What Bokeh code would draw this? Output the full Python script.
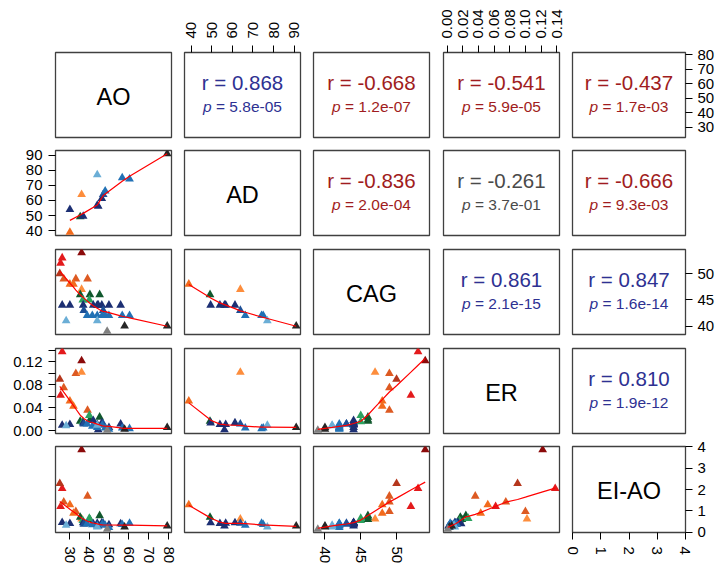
import numpy as np
from bokeh.plotting import figure
from bokeh.models import Range1d, LinearAxis, FixedTicker, PrintfTickFormatter, Label
from bokeh.layouts import gridplot
from bokeh.embed import file_html
from bokeh.resources import INLINE

# ---------------- data ----------------
var_names = ["AO", "AD", "CAG", "ER", "EI-AO"]

nan = float("nan")
cag = [54, 53, 52, 50, 49, 49, 49, 48, 48, 47, 46, 46, 46, 45, 45,
       44, 44, 44, 44, 44, 44, 44, 44, 44, 43, 43,
       42, 42, 42, 42, 42, 42, 42, 42, 41, 41, 40, 40, 39]
ao = [36.1, 26.3, 25.5, 25.1, 27.1, 33.2, 39.1, 30.2, 32.0, 36.1, 35.4, 40.3, 45.2, 36.7, 40.0,
      26.3, 30.2, 36.9, 42.0, 44.0, 44.5, 46.3, 49.9, 55.8, 37.2, 47.0,
      38.9, 41.5, 44.0, 46.5, 48.0, 49.9, 56.6, 60.3, 28.3, 44.0, 57.8, 79.3, 49.0]
ad = [nan, nan, nan, nan, nan, nan, nan, 38.9, nan, 63.9, 49.2, nan, nan, nan, nan,
      nan, 54.0, 49.5, nan, 56.8, 56.2, 61.3, nan, nan, nan, 63.9,
      nan, nan, nan, nan, 66.3, nan, 75.0, 74.2, nan, 77.0, nan, 91.0, nan]
er = [0.122, 0.138, 0.062, 0.090, 0.075, 0.100, 0.036, 0.052, 0.043, 0.102, 0.017, 0.019, 0.024, 0.016, 0.027,
      0.010, 0.011, 0.014, 0.018, 0.011, 0.002, 0.014, 0.006, 0.012, 0.012, 0.012,
      0.012, 0.008, 0.006, 0.010, 0.005, 0.003, 0.005, 0.004, 0.009, 0.010, 0.003, 0.006, 0.001]
ei_ao = [3.86, 2.05, 1.21, 2.28, 1.42, 0.97, 1.69, 1.29, 0.89, 0.62, 0.70, 0.60, 0.78, 0.55, 0.65,
         0.46, 0.41, 0.45, 0.40, 0.42, 0.29, 0.45, 0.35, 0.40, 0.38, 0.42,
         0.40, 0.35, 0.30, 0.38, 0.33, 0.22, 0.36, 0.42, 0.33, 0.25, 0.25, 0.29, 0.14]

cag_levels = [39, 40, 41, 42, 43, 44, 45, 46, 47, 48, 49, 50, 52, 53, 54]
cag_colors = ["#808080", "#262626", "#6baed6", "#2171b5", "#1d4f96", "#1c2f73", "#2ca25f",
              "#10582d", "#fd8d3c", "#f26b1d", "#dd5a22", "#b5361c", "#e31a1c", "#e31a1c", "#8b0a0a"]

# correlation annotations (upper panels)
upper_cells = [(0, 1), (0, 2), (0, 3), (0, 4), (1, 2), (1, 3), (1, 4), (2, 3), (2, 4), (3, 4)]
r_text = ["r = 0.868", "r = -0.668", "r = -0.541", "r = -0.437", "r = -0.836",
          "r = -0.261", "r = -0.666", "r = 0.861", "r = 0.847", "r = 0.810"]
p_text = ["5.8e-05", "1.2e-07", "5.9e-05", "1.7e-03", "2.0e-04",
          "3.7e-01", "9.3e-03", "2.1e-15", "1.6e-14", "1.9e-12"]
r_kind = ["pos", "neg", "neg", "neg", "neg", "ns", "neg", "pos", "pos", "pos"]
kind_color = {"pos": "#2e3192", "neg": "#a01c20", "ns": "#4a4a4a"}

# tick positions
ao_ticks = [30, 40, 50, 60, 70, 80]
ad_ticks = [40, 50, 60, 70, 80, 90]
cag_ticks = [40, 45, 50]
er_ticks_all = [0.00, 0.02, 0.04, 0.06, 0.08, 0.10, 0.12, 0.14]
er_ticks_major = [0.00, 0.04, 0.08, 0.12]
er_ticks_minor = [0.02, 0.06, 0.10, 0.14]
ei_ticks = [0, 1, 2, 3, 4]

# ---------------- helpers ----------------
columns = [np.array(ao, float), np.array(ad, float), np.array(cag, float),
           np.array(er, float), np.array(ei_ao, float)]
color_of = dict(zip(cag_levels, cag_colors))
colors = np.array([color_of[c] for c in cag])


def data_range(v):
    v = v[np.isfinite(v)]
    lo, hi = v.min(), v.max()
    d = hi - lo
    return lo - 0.04 * d, hi + 0.04 * d


ranges = [data_range(c) for c in columns]


def _lowest(x, y, n, xs, nleft, nright, rw, userw):
    rng = x[n - 1] - x[0]
    h = max(xs - x[nleft], x[nright] - xs)
    h9, h1 = 0.999 * h, 0.001 * h
    w = np.zeros(n)
    a = 0.0
    j = nleft
    while j < n:
        r = abs(x[j] - xs)
        if r <= h9:
            w[j] = 1.0 if r <= h1 else (1 - (r / h) ** 3) ** 3
            if userw:
                w[j] *= rw[j]
            a += w[j]
        elif x[j] > xs:
            break
        j += 1
    nrt = j - 1
    if a <= 0:
        return 0.0, False
    sl = slice(nleft, nrt + 1)
    w[sl] /= a
    if h > 0:
        a = np.sum(w[sl] * x[sl])
        b = xs - a
        c = np.sum(w[sl] * (x[sl] - a) ** 2)
        if np.sqrt(c) > 0.001 * rng:
            b /= c
            w[sl] *= (b * (x[sl] - a) + 1.0)
    return float(np.sum(w[sl] * y[sl])), True


def lowess(x, y, f=2 / 3, nsteps=3):
    o = np.argsort(x, kind="stable")
    x = x[o]
    y = y[o]
    n = len(x)
    delta = 0.01 * (x[-1] - x[0])
    ns = max(2, min(n, int(f * n + 1e-7)))
    ys = np.zeros(n)
    rw = np.ones(n)
    for it in range(1, nsteps + 2):
        nleft, nright, last, i = 0, ns - 1, -1, 0
        while True:
            if nright < n - 1:
                d1 = x[i] - x[nleft]
                d2 = x[nright + 1] - x[i]
                if d1 > d2:
                    nleft += 1
                    nright += 1
                    continue
            val, ok = _lowest(x, y, n, x[i], nleft, nright, rw, it > 1)
            ys[i] = val if ok else y[i]
            if last < i - 1:
                denom = x[i] - x[last]
                for j in range(last + 1, i):
                    alpha = (x[j] - x[last]) / denom
                    ys[j] = alpha * ys[i] + (1 - alpha) * ys[last]
            last = i
            cut = x[last] + delta
            i = last + 1
            while i < n:
                if x[i] > cut:
                    break
                if x[i] == x[last]:
                    ys[i] = ys[last]
                    last = i
                i += 1
            i = max(last + 1, i - 1)
            if last >= n - 1:
                break
        res = y - ys
        sc = np.mean(np.abs(res))
        if it > nsteps:
            break
        ar = np.abs(res)
        cmad = 6 * np.median(ar)
        if cmad < 1e-7 * sc:
            break
        c9, c1 = 0.999 * cmad, 0.001 * cmad
        rw = np.where(ar <= c1, 1.0, np.where(ar <= c9, (1 - (ar / cmad) ** 2) ** 2, 0.0))
    return x, ys


FONT = "Liberation Sans"
TICK_FS = "15px"


def add_axis(p, loc, ticks, minor=None, fmt="%d", vertical=False, standoff=6):
    ax = LinearAxis(ticker=FixedTicker(ticks=ticks, minor_ticks=minor or []))
    ax.axis_line_color = None
    ax.major_tick_out = 7
    ax.major_tick_in = 0
    ax.minor_tick_out = 7 if minor else 0
    ax.minor_tick_in = 0
    ax.major_tick_line_color = "black"
    ax.minor_tick_line_color = "black"
    ax.major_label_text_font = FONT
    ax.major_label_text_font_size = TICK_FS
    ax.major_label_text_color = "black"
    ax.major_label_standoff = standoff
    ax.formatter = PrintfTickFormatter(format=fmt)
    if vertical:
        ax.major_label_orientation = "vertical"
    p.add_layout(ax, loc)


# Arial-metric widths (per 1000 em) for centering the mixed italic/regular p line
CW = {c: 556 for c in "0123456789ep"}
CW.update({".": 278, "-": 333, "=": 584, " ": 278, "r": 333})


def text_width(s, fs):
    return sum(CW[c] for c in s) * fs / 1000.0


# ---------------- layout geometry ----------------
col_lb = [55, 7, 7, 7, 7]
col_fw = [116, 116, 116, 116, 115]
col_rb = [6, 6, 7, 6, 30]
row_tb = [52, 7, 7, 7, 7]
row_fh = [85, 85, 85, 85, 86]
row_bb = [6, 7, 7, 6, 36]

R_FS = 20.5
P_FS = 15.5
DIAG_FS = 23.5
R_DY = 12.5
P_DY = -11.9
DIAG_DY = -1.5

grid_rows = []
for i in range(5):
    row = []
    for j in range(5):
        W = col_lb[j] + col_fw[j] + col_rb[j]
        H = row_tb[i] + row_fh[i] + row_bb[i]
        xr = Range1d(*ranges[j])
        yr = Range1d(*ranges[i])
        p = figure(width=W, height=H, x_range=xr, y_range=yr, title=None,
                   toolbar_location=None, tools="", output_backend="svg",
                   x_axis_location=None, y_axis_location=None,
                   min_border_left=col_lb[j], min_border_right=col_rb[j],
                   min_border_top=row_tb[i], min_border_bottom=row_bb[i])
        p.xgrid.grid_line_color = None
        p.ygrid.grid_line_color = None
        p.outline_line_color = "#404040"
        p.outline_line_width = 1.3
        p.background_fill_color = "white"
        p.border_fill_color = "white"

        cx = 0.5 * (ranges[j][0] + ranges[j][1])
        cy = 0.5 * (ranges[i][0] + ranges[i][1])

        if i == j:
            p.add_layout(Label(x=cx, y=cy, text=var_names[i], text_align="center",
                               text_baseline="alphabetic", y_offset=DIAG_DY,
                               text_font=FONT, text_font_size=f"{DIAG_FS}px",
                               text_color="black"))
        elif i < j:
            k = upper_cells.index((i, j))
            col = kind_color[r_kind[k]]
            p.add_layout(Label(x=cx, y=cy, text=r_text[k], text_align="center",
                               text_baseline="alphabetic", y_offset=R_DY,
                               text_font=FONT, text_font_size=f"{R_FS}px",
                               text_color=col))
            rest = "= " + p_text[k]
            wtot = text_width("p " + rest, P_FS)
            wp = text_width("p ", P_FS)
            p.add_layout(Label(x=cx, y=cy, text="p", text_align="left",
                               text_baseline="alphabetic", x_offset=-wtot / 2, y_offset=P_DY,
                               text_font=FONT, text_font_size=f"{P_FS}px",
                               text_font_style="italic", text_color=col))
            p.add_layout(Label(x=cx, y=cy, text=rest, text_align="left",
                               text_baseline="alphabetic", x_offset=-wtot / 2 + wp, y_offset=P_DY,
                               text_font=FONT, text_font_size=f"{P_FS}px",
                               text_color=col))
        else:
            xv = columns[j]
            yv = columns[i]
            ok = np.isfinite(xv) & np.isfinite(yv)
            p.scatter(xv[ok], yv[ok], marker="triangle", size=8.7,
                      fill_color=list(colors[ok]), line_color=None)
            lx, ly = lowess(xv[ok], yv[ok])
            p.line(lx, ly, line_color="#ff0000", line_width=1.2)

        # outer axes (R pairs style, alternating)
        if i == 0 and j in (1, 3):
            if j == 1:
                add_axis(p, "above", ad_ticks, vertical=True, standoff=7)
            else:
                add_axis(p, "above", er_ticks_all, fmt="%.2f", vertical=True, standoff=7)
        if j == 4 and i in (0, 2, 4):
            t = {0: ao_ticks, 2: cag_ticks, 4: ei_ticks}[i]
            add_axis(p, "right", t, standoff=5)
        if j == 0 and i in (1, 3):
            if i == 1:
                add_axis(p, "left", ad_ticks, standoff=6)
            else:
                add_axis(p, "left", er_ticks_major, minor=er_ticks_minor, fmt="%.2f", standoff=6)
        if i == 4 and j in (0, 2, 4):
            t = {0: ao_ticks, 2: cag_ticks, 4: ei_ticks}[j]
            add_axis(p, "below", t, vertical=True, standoff=7)
        row.append(p)
    grid_rows.append(row)

layout = gridplot(grid_rows, toolbar_location=None)

open("out.html", "w").write(file_html(layout, INLINE, title="pairs"))
